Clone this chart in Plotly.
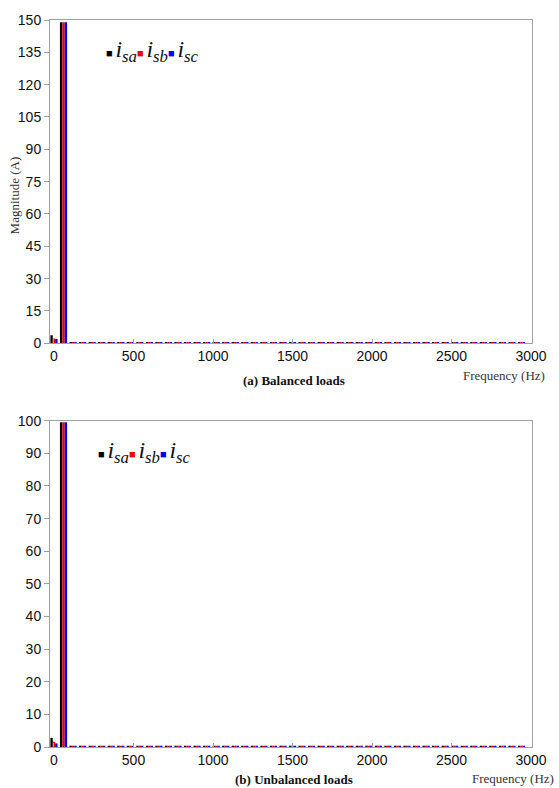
import plotly.graph_objects as go
from plotly.subplots import make_subplots

# Bar positions (Hz): DC, fundamental, then harmonics
freq = [0, 60, 120, 180, 240, 300, 360, 420, 480, 540,
        600, 660, 720, 780, 840, 900, 960, 1020, 1080, 1140,
        1200, 1260, 1320, 1380, 1440, 1500, 1560, 1620, 1680, 1740,
        1800, 1860, 1920, 1980, 2040, 2100, 2160, 2220, 2280, 2340,
        2400, 2460, 2520, 2580, 2640, 2700, 2760, 2820, 2880, 2940]

# (a) Balanced loads
bal_sa = [3.7, 149.0, 0.6, 0.5, 0.4, 0.5, 0.4, 0.5, 0.4, 0.4,
          0.5, 0.4, 0.4, 0.5, 0.4, 0.4, 0.5, 0.4, 0.4, 0.4,
          0.5, 0.4, 0.4, 0.5, 0.4, 0.6, 0.4, 0.4, 0.5, 0.4,
          0.4, 0.4, 0.5, 0.4, 0.4, 0.4, 0.5, 0.4, 0.4, 0.4,
          0.5, 0.4, 0.4, 0.4, 0.5, 0.4, 0.4, 0.4, 0.5, 0.4]
bal_sb = [2.2, 149.0, 0.5, 0.4, 0.5, 0.4, 0.5, 0.4, 0.5, 0.4,
          0.4, 0.5, 0.4, 0.4, 0.5, 0.4, 0.4, 0.5, 0.4, 0.4,
          0.4, 0.5, 0.4, 0.4, 0.5, 0.4, 0.4, 0.5, 0.4, 0.4,
          0.5, 0.4, 0.4, 0.5, 0.4, 0.4, 0.5, 0.4, 0.4, 0.5,
          0.4, 0.4, 0.5, 0.4, 0.4, 0.5, 0.4, 0.4, 0.4, 0.5]
bal_sc = [2.0, 149.0, 0.5, 0.5, 0.4, 0.4, 0.5, 0.4, 0.4, 0.5,
          0.4, 0.4, 0.5, 0.4, 0.4, 0.5, 0.4, 0.4, 0.5, 0.4,
          0.4, 0.4, 0.5, 0.4, 0.4, 0.5, 0.4, 0.4, 0.4, 0.5,
          0.4, 0.4, 0.4, 0.5, 0.4, 0.4, 0.4, 0.5, 0.4, 0.4,
          0.4, 0.5, 0.4, 0.4, 0.4, 0.5, 0.4, 0.4, 0.5, 0.4]

# (b) Unbalanced loads
unb_sa = [2.8, 99.5, 0.3, 0.3, 0.3, 0.3, 0.3, 0.3, 0.3, 0.3,
          0.3, 0.3, 0.3, 0.3, 0.3, 0.3, 0.3, 0.3, 0.3, 0.3,
          0.3, 0.3, 0.3, 0.3, 0.3, 0.3, 0.3, 0.3, 0.3, 0.3,
          0.3, 0.3, 0.3, 0.3, 0.3, 0.3, 0.3, 0.3, 0.3, 0.3,
          0.3, 0.3, 0.3, 0.3, 0.3, 0.3, 0.3, 0.3, 0.3, 0.3]
unb_sb = [1.6, 99.5, 0.3, 0.3, 0.3, 0.3, 0.3, 0.3, 0.3, 0.3,
          0.3, 0.3, 0.3, 0.3, 0.3, 0.3, 0.3, 0.3, 0.3, 0.3,
          0.3, 0.3, 0.3, 0.3, 0.3, 0.3, 0.3, 0.3, 0.3, 0.3,
          0.3, 0.3, 0.3, 0.3, 0.3, 0.3, 0.3, 0.3, 0.3, 0.3,
          0.3, 0.3, 0.3, 0.3, 0.3, 0.3, 0.3, 0.3, 0.3, 0.3]
unb_sc = [1.1, 99.5, 0.3, 0.3, 0.3, 0.3, 0.3, 0.3, 0.3, 0.3,
          0.3, 0.3, 0.3, 0.3, 0.3, 0.3, 0.3, 0.3, 0.3, 0.3,
          0.3, 0.3, 0.3, 0.3, 0.3, 0.3, 0.3, 0.3, 0.3, 0.3,
          0.3, 0.3, 0.3, 0.3, 0.3, 0.3, 0.3, 0.3, 0.3, 0.3,
          0.3, 0.3, 0.3, 0.3, 0.3, 0.3, 0.3, 0.3, 0.3, 0.3]

series_names = ["i_sa", "i_sb", "i_sc"]
series_colors = ["#000000", "#ee0000", "#0000ee"]

fig = make_subplots(rows=2, cols=1)

for row, data in ((1, (bal_sa, bal_sb, bal_sc)), (2, (unb_sa, unb_sb, unb_sc))):
    for name, col, vals in zip(series_names, series_colors, data):
        fig.add_trace(go.Bar(x=freq, y=vals, name=name, marker_color=col,
                             marker_line_width=0, showlegend=False),
                      row=row, col=1)

SANS = "Liberation Sans, Arial, sans-serif"
SERIF = "Liberation Serif, Times New Roman, serif"
axcol = "#a0a0a0"

xcommon = dict(range=[-25, 3006], tickvals=[0, 500, 1000, 1500, 2000, 2500, 3000],
               showline=True, linecolor=axcol, linewidth=1, mirror=True,
               ticks="inside", ticklen=4, tickcolor=axcol, showgrid=False,
               zeroline=False, tickfont=dict(family=SANS, size=14, color="#111"))
ycommon = dict(showline=True, linecolor=axcol, linewidth=1, mirror=True,
               ticks="outside", ticklen=5, tickcolor=axcol, showgrid=False,
               zeroline=False, tickfont=dict(family=SANS, size=14, color="#111"))

fig.update_xaxes(**xcommon)
fig.update_yaxes(**ycommon)
fig.update_layout(
    xaxis=dict(domain=[0, 1]),
    yaxis=dict(domain=[0.5553, 1.0], range=[0, 150], dtick=15),
    xaxis2=dict(domain=[0, 1]),
    yaxis2=dict(domain=[0.0, 0.4488], range=[0, 100], dtick=10),
)

legend_html = ""
for name, col in zip(series_names, series_colors):
    sub = name.split("_")[1]
    legend_html += (f"<span style='font-size:11px;color:{col}'>■ </span>"
                    f"<i>i</i><sub><i>{sub}</i></sub>")

annots = [
    dict(text=legend_html, x=0.1116, y=0.957, xanchor="left", yanchor="middle"),
    dict(text=legend_html, x=0.095, y=0.406, xanchor="left", yanchor="middle"),
]
for a in annots:
    a.update(xref="paper", yref="paper", showarrow=False,
             font=dict(family=SERIF, size=24, color="#111"))

annots += [
    dict(text="Magnitude (A)", x=-0.073, y=0.7585, textangle=-90,
         xanchor="center", yanchor="middle",
         font=dict(family=SERIF, size=13, color="#333")),
    dict(text="<b>(a) Balanced loads</b>", x=0.507, y=0.5048,
         xanchor="center", yanchor="middle",
         font=dict(family=SERIF, size=13, color="#111")),
    dict(text="Frequency (Hz)", x=0.852, y=0.5116, xanchor="left", yanchor="middle",
         font=dict(family=SERIF, size=13, color="#333")),
    dict(text="<b>(b) Unbalanced loads</b>", x=0.507, y=-0.045,
         xanchor="center", yanchor="middle",
         font=dict(family=SERIF, size=13, color="#111")),
    dict(text="Frequency (Hz)", x=0.872, y=-0.0437, xanchor="left", yanchor="middle",
         font=dict(family=SERIF, size=13, color="#333")),
]
for a in annots[2:]:
    a.update(xref="paper", yref="paper", showarrow=False)

fig.update_layout(
    width=559, height=788,
    margin=dict(l=50, r=16, t=14, b=41),
    paper_bgcolor="white", plot_bgcolor="white",
    barmode="group", bargap=0.25, bargroupgap=0,
    annotations=annots,
    showlegend=False,
)

fig.write_html(
    "out.html",
    post_script="document.documentElement.style.margin='0';"
                "document.body.style.margin='0';"
                "document.documentElement.style.overflow='hidden';"
                "document.body.style.overflow='hidden';",
)
